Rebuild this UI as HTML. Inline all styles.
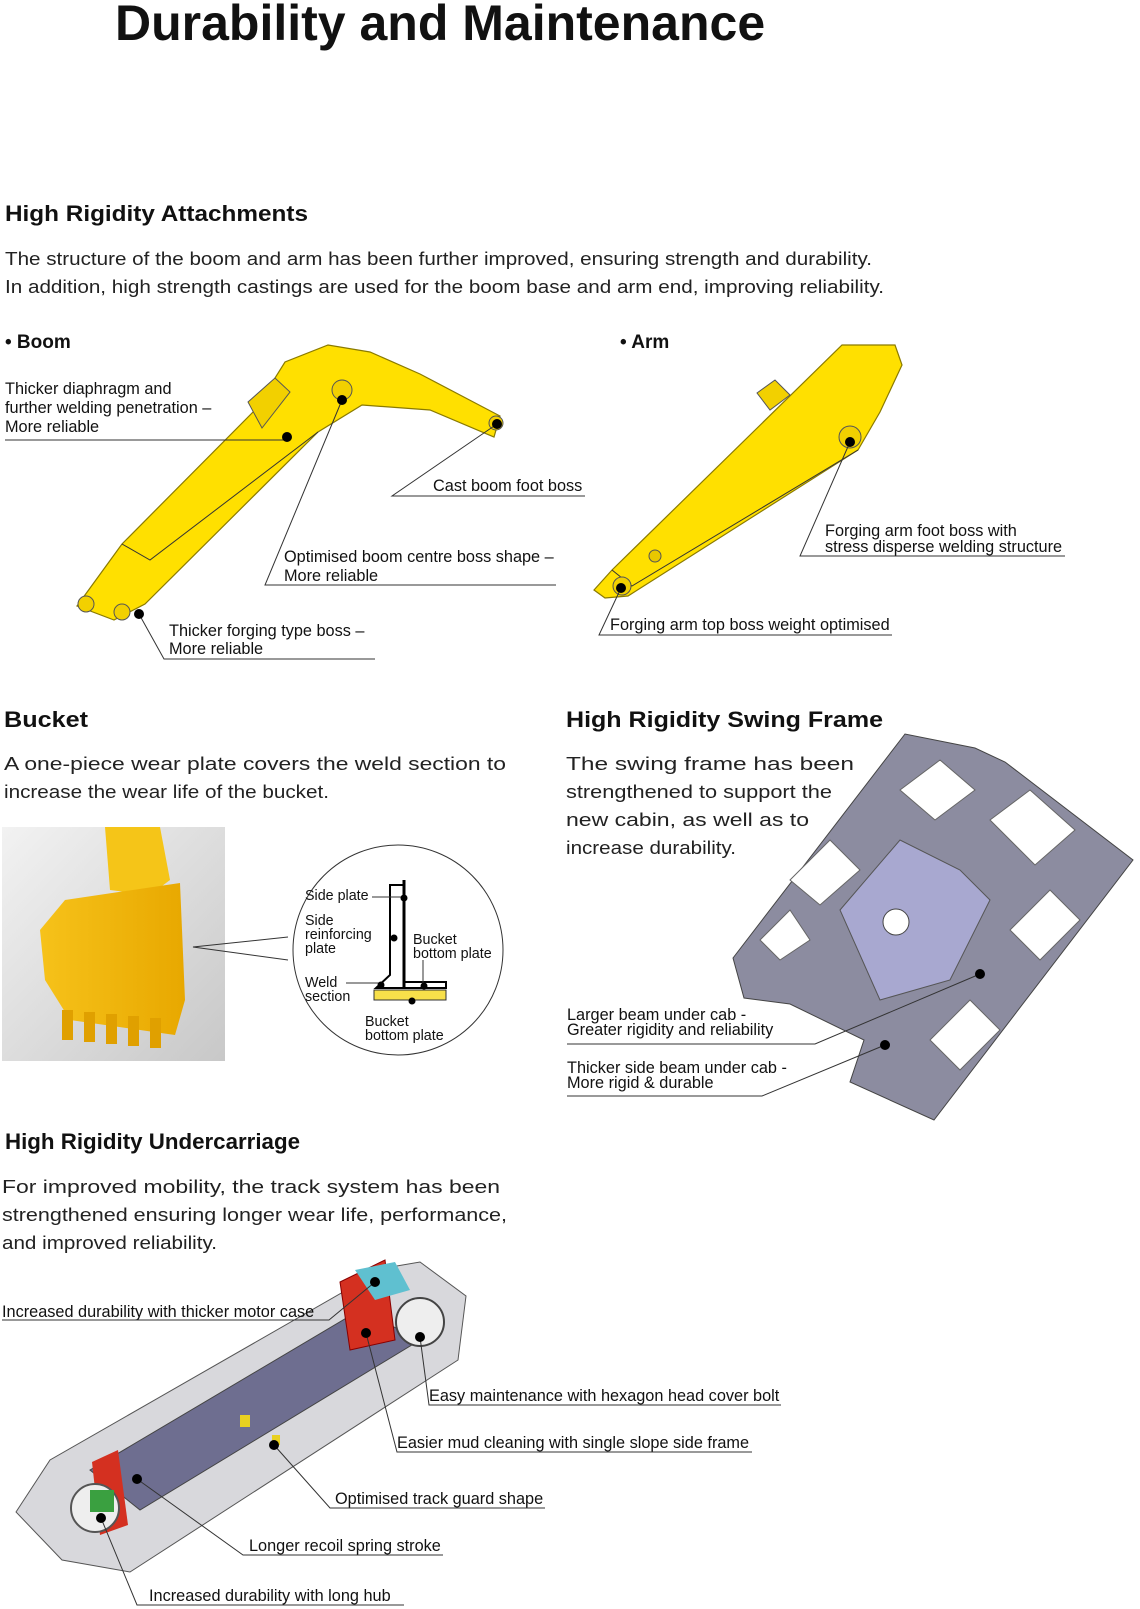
<!DOCTYPE html>
<html><head><meta charset="utf-8"><style>
html,body{margin:0;padding:0;background:#fff}
svg{display:block}
text{font-family:"Liberation Sans",sans-serif;fill:#111}
.h{font-weight:bold;font-size:22px}
.b{font-size:18px;fill:#222}
.l{font-size:16.3px}
.s{font-size:14.3px}
.ln{stroke:#333;stroke-width:1;fill:none}
.d{fill:#000}
</style></head><body>
<svg width="1140" height="1609" viewBox="0 0 1140 1609" xmlns="http://www.w3.org/2000/svg">
<defs>
<linearGradient id="bg" x1="0" y1="0" x2="1" y2="1"><stop offset="0" stop-color="#f2f2f2"/><stop offset="1" stop-color="#c8c8c8"/></linearGradient>
<linearGradient id="yl" x1="0" y1="0" x2="1" y2="0"><stop offset="0" stop-color="#f6c21a"/><stop offset="1" stop-color="#e8a800"/></linearGradient>
</defs>
<text x="115" y="40" style="font-weight:bold;font-size:50px">Durability and Maintenance</text>
<text class="h" x="5" y="221" textLength="303" lengthAdjust="spacingAndGlyphs">High Rigidity Attachments</text>
<text class="b" x="5" y="265" textLength="867" lengthAdjust="spacingAndGlyphs">The structure of the boom and arm has been further improved, ensuring strength and durability.</text>
<text class="b" x="5" y="293" textLength="879" lengthAdjust="spacingAndGlyphs">In addition, high strength castings are used for the boom base and arm end, improving reliability.</text>
<text x="5" y="348" style="font-weight:bold;font-size:19px">• Boom</text>
<text x="620" y="348" style="font-weight:bold;font-size:19px">• Arm</text>
<!-- Boom -->
<polygon points="77,606 122,544 255,410 285,362 328,345 370,352 420,374 500,416 494,437 430,410 362,405 318,432 145,604 114,620" fill="#ffe000" stroke="#8a7a00" stroke-width="1.2"/>
<polyline points="122,544 150,560 318,432" class="ln" stroke="#9a8a00"/>
<circle cx="342" cy="390" r="10" fill="#f2d000" stroke="#555"/>
<circle cx="496" cy="423" r="7" fill="#f2d000" stroke="#555"/>
<circle cx="86" cy="604" r="8" fill="#f2d000" stroke="#555"/>
<circle cx="122" cy="612" r="8" fill="#f2d000" stroke="#555"/>
<polygon points="248,402 275,378 290,392 262,428" fill="#f2d000" stroke="#555"/>
<!-- Arm -->
<polygon points="594,590 612,570 842,345 895,345 902,365 880,412 858,450 628,596 605,598" fill="#ffe000" stroke="#8a7a00" stroke-width="1.2"/>
<polyline points="612,570 632,586 858,450" class="ln" stroke="#9a8a00"/>
<circle cx="850" cy="437" r="11" fill="#f2d000" stroke="#555"/>
<circle cx="622" cy="586" r="9" fill="#f2d000" stroke="#555"/>
<circle cx="655" cy="556" r="6" fill="#e8c800" stroke="#555"/>
<polygon points="757,393 775,380 790,395 770,410" fill="#f2d000" stroke="#555"/>
<!-- boom labels -->
<text class="l" x="5" y="394">Thicker diaphragm and</text>
<text class="l" x="5" y="413">further welding penetration –</text>
<text class="l" x="5" y="432">More reliable</text>
<polyline class="ln" points="5,440 287,440 287,437"/><circle class="d" cx="287" cy="437" r="5"/>
<text class="l" x="433" y="491">Cast boom foot boss</text>
<polyline class="ln" points="585,496 392,496 497,424"/><circle class="d" cx="497" cy="424" r="5"/>
<text class="l" x="284" y="562">Optimised boom centre boss shape –</text>
<text class="l" x="284" y="581">More reliable</text>
<polyline class="ln" points="556,585 265,585 342,400"/><circle class="d" cx="342" cy="400" r="5"/>
<text class="l" x="169" y="636">Thicker forging type  boss –</text>
<text class="l" x="169" y="654">More reliable</text>
<polyline class="ln" points="375,659 164,659 139,614"/><circle class="d" cx="139" cy="614" r="5"/>
<!-- arm labels -->
<text class="l" x="825" y="536">Forging arm foot boss with</text>
<text class="l" x="825" y="552">stress disperse welding structure</text>
<polyline class="ln" points="1065,556 800,556 850,442"/><circle class="d" cx="850" cy="442" r="5"/>
<text class="l" x="610" y="630">Forging arm top boss weight optimised</text>
<polyline class="ln" points="892,635 599,635 621,588"/><circle class="d" cx="621" cy="588" r="5"/>
<!-- Bucket -->
<text class="h" x="4" y="727" textLength="84" lengthAdjust="spacingAndGlyphs">Bucket</text>
<text class="b" x="4" y="770" textLength="502" lengthAdjust="spacingAndGlyphs">A  one-piece  wear  plate  covers  the  weld  section  to</text>
<text class="b" x="4" y="798" textLength="325" lengthAdjust="spacingAndGlyphs">increase the wear life of the bucket.</text>
<rect x="2" y="827" width="223" height="234" fill="url(#bg)"/>
<polygon points="105,827 160,827 170,880 150,895 110,890" fill="#f5c518"/>
<path d="M65,900 L180,883 L185,1000 L175,1035 L70,1020 L45,980 L40,930 Z" fill="url(#yl)"/>
<g fill="#e0a000"><rect x="62" y="1010" width="11" height="30"/><rect x="84" y="1012" width="11" height="30"/><rect x="106" y="1014" width="11" height="30"/><rect x="128" y="1016" width="11" height="30"/><rect x="150" y="1018" width="11" height="30"/></g>
<polyline class="ln" points="288,937 193,947 288,960" stroke="#555"/>
<circle cx="398" cy="950" r="105" fill="#fff" stroke="#333"/>
<rect x="374" y="990" width="72" height="10" fill="#f8e04a" stroke="#333"/>
<path d="M390,885 L404,885 L404,982 L446,982 L446,988 L376,988 L390,975 Z" fill="#fff" stroke="#000" stroke-width="2"/>
<line x1="404" y1="880" x2="404" y2="988" stroke="#000" stroke-width="3"/>
<text class="s" x="305" y="900">Side plate</text><line class="ln" x1="372" y1="897" x2="404" y2="897"/><circle class="d" cx="404" cy="898" r="3.5"/>
<text class="s" x="305" y="925">Side</text><text class="s" x="305" y="939">reinforcing</text><text class="s" x="305" y="953">plate</text>
<circle class="d" cx="394" cy="938" r="3.5"/>
<text class="s" x="413" y="944">Bucket</text><text class="s" x="413" y="958">bottom plate</text>
<line class="ln" x1="423" y1="960" x2="423" y2="986"/><circle class="d" cx="424" cy="986" r="3.5"/>
<text class="s" x="305" y="987">Weld</text><text class="s" x="305" y="1001">section</text>
<line class="ln" x1="346" y1="983" x2="380" y2="983"/><circle class="d" cx="381" cy="985" r="3.5"/>
<text class="s" x="365" y="1026">Bucket</text><text class="s" x="365" y="1040">bottom plate</text><circle class="d" cx="412" cy="1001" r="3.5"/>
<!-- Swing frame -->
<text class="h" x="566" y="727" textLength="317" lengthAdjust="spacingAndGlyphs">High Rigidity Swing Frame</text>
<text class="b" x="566" y="770" textLength="288" lengthAdjust="spacingAndGlyphs">The   swing   frame   has   been</text>
<text class="b" x="566" y="798" textLength="266" lengthAdjust="spacingAndGlyphs">strengthened  to  support  the</text>
<text class="b" x="566" y="826" textLength="243" lengthAdjust="spacingAndGlyphs">new  cabin,  as  well  as  to</text>
<text class="b" x="566" y="854" textLength="170" lengthAdjust="spacingAndGlyphs">increase durability.</text>
<polygon points="733,958 905,734 975,748 1005,762 1133,860 934,1120 850,1082 864,1040 790,1004 744,998" fill="#8c8ca0" stroke="#444"/>
<polygon points="840,910 900,840 960,870 990,900 950,980 880,1000" fill="#a8a8d0" stroke="#555"/>
<g fill="#fff" stroke="#666"><polygon points="900,790 940,760 975,790 935,820"/><polygon points="990,820 1030,790 1075,830 1035,865"/><polygon points="790,880 830,840 860,870 820,905"/><polygon points="1010,930 1050,890 1080,920 1040,960"/><polygon points="930,1040 970,1000 1000,1030 960,1070"/><polygon points="760,940 790,910 810,940 780,960"/></g>
<circle cx="896" cy="922" r="13" fill="#fff" stroke="#444"/>
<text class="l" x="567" y="1020">Larger beam under cab -</text>
<text class="l" x="567" y="1035">Greater rigidity and reliability</text>
<polyline class="ln" points="567,1044 815,1044 980,974"/><circle class="d" cx="980" cy="974" r="5"/>
<text class="l" x="567" y="1073">Thicker side beam under cab -</text>
<text class="l" x="567" y="1088">More rigid &amp; durable</text>
<polyline class="ln" points="567,1096 762,1096 885,1045"/><circle class="d" cx="885" cy="1045" r="5"/>
<!-- Undercarriage -->
<text class="h" x="5" y="1149" textLength="295" lengthAdjust="spacingAndGlyphs">High Rigidity Undercarriage</text>
<text class="b" x="2" y="1193" textLength="498" lengthAdjust="spacingAndGlyphs">For  improved  mobility,  the  track  system  has  been</text>
<text class="b" x="2" y="1221" textLength="505" lengthAdjust="spacingAndGlyphs">strengthened  ensuring  longer  wear  life,  performance,</text>
<text class="b" x="2" y="1249" textLength="215" lengthAdjust="spacingAndGlyphs">and improved reliability.</text>
<polygon points="16,1512 50,1460 385,1268 420,1262 466,1296 458,1360 130,1572 62,1560" fill="#d8d8dc" stroke="#555"/>
<polygon points="90,1470 360,1310 420,1340 140,1510" fill="#6e6e90" stroke="#444"/>
<polygon points="340,1282 385,1260 395,1340 350,1350" fill="#d43020" stroke="#800"/>
<polygon points="355,1270 395,1262 410,1290 375,1300" fill="#5fc0d0"/>
<circle cx="420" cy="1322" r="24" fill="#eee" stroke="#444" stroke-width="2"/>
<polygon points="92,1462 118,1450 128,1525 100,1535" fill="#d43020"/>
<circle cx="95" cy="1508" r="24" fill="#eee" stroke="#555" stroke-width="2"/>
<rect x="90" y="1490" width="24" height="22" fill="#3aa040"/>
<g fill="#e8d020"><rect x="240" y="1415" width="10" height="12"/><rect x="272" y="1435" width="8" height="10"/></g>
<text class="l" x="2" y="1317">Increased durability with thicker motor case</text>
<polyline class="ln" points="2,1320 329,1320 375,1282"/><circle class="d" cx="375" cy="1282" r="5"/>
<text class="l" x="429" y="1401">Easy maintenance with hexagon head cover bolt</text>
<polyline class="ln" points="781,1405 429,1405 420,1337"/><circle class="d" cx="420" cy="1337" r="5"/>
<text class="l" x="397" y="1448">Easier mud cleaning with single slope side frame</text>
<polyline class="ln" points="752,1452 397,1452 366,1333"/><circle class="d" cx="366" cy="1333" r="5"/>
<text class="l" x="335" y="1504">Optimised track guard shape</text>
<polyline class="ln" points="545,1508 330,1508 274,1445"/><circle class="d" cx="274" cy="1445" r="5"/>
<text class="l" x="249" y="1551">Longer recoil spring stroke</text>
<polyline class="ln" points="443,1555 243,1555 137,1479"/><circle class="d" cx="137" cy="1479" r="5"/>
<text class="l" x="149" y="1601">Increased durability with long hub</text>
<polyline class="ln" points="404,1605 137,1605 101,1518"/><circle class="d" cx="101" cy="1518" r="5"/>
</svg>
</body></html>
